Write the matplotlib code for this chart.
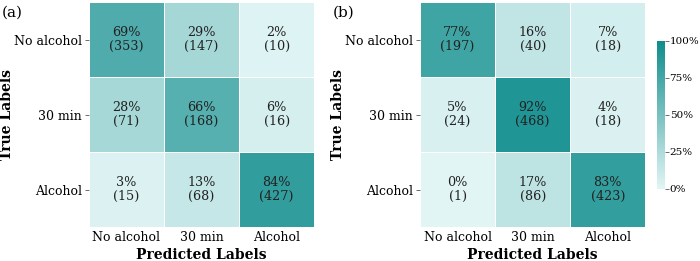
import numpy as np
import matplotlib.pyplot as plt
from matplotlib.colors import LinearSegmentedColormap

plt.rcParams['font.family'] = 'DejaVu Serif'

classes = ['No alcohol', '30 min', 'Alcohol']
counts_a = np.array([[353, 147, 10],
                     [71, 168, 16],
                     [15, 68, 427]])
counts_b = np.array([[197, 40, 18],
                     [24, 468, 18],
                     [1, 86, 423]])
panel_names = ['(a)', '(b)']
cbar_ticks = [0, 25, 50, 75, 100]

cmap = LinearSegmentedColormap.from_list('tealish', ['#e2f5f5', '#0f8c8c'])

fig = plt.figure(figsize=(7, 2.61), dpi=100)
axes = [fig.add_axes([0.127, 0.130, 0.322, 0.862]),
        fig.add_axes([0.600, 0.130, 0.322, 0.862])]

def draw_cm(ax, counts):
    pct = counts / counts.sum(axis=1, keepdims=True) * 100
    mesh = ax.pcolormesh(pct, cmap=cmap, vmin=0, vmax=100,
                         edgecolors='white', linewidth=0.6)
    ax.set_xlim(0, 3)
    ax.set_ylim(3, 0)
    for i in range(3):
        for j in range(3):
            ax.text(j + 0.5, i + 0.5, f'{pct[i, j]:.0f}%\n({counts[i, j]})',
                    ha='center', va='center', fontsize=9.2, color='#222222',
                    linespacing=1.1)
    ax.set_xticks(np.arange(3) + 0.5)
    ax.set_xticklabels(classes, fontsize=9)
    ax.set_yticks(np.arange(3) + 0.5)
    ax.set_yticklabels(classes, fontsize=9)
    ax.tick_params(axis='x', length=0, pad=3)
    ax.tick_params(axis='y', length=3, width=0.6, color='#555555', pad=2)
    for s in ax.spines.values():
        s.set_visible(False)
    ax.set_xlabel('Predicted Labels', fontsize=10, fontweight='bold', labelpad=3)
    ax.set_ylabel('True Labels', fontsize=10, fontweight='bold')
    ax.yaxis.set_label_coords(-0.331, 0.5)
    return mesh

mesh = None
for ax, counts in zip(axes, [counts_a, counts_b]):
    mesh = draw_cm(ax, counts)

fig.text(0.003, 0.935, panel_names[0], fontsize=11)
fig.text(0.476, 0.935, panel_names[1], fontsize=11)

cax = fig.add_axes([0.9386, 0.276, 0.011, 0.567])
cb = fig.colorbar(mesh, cax=cax, ticks=cbar_ticks)
cb.ax.set_yticklabels([f'{t}%' for t in cbar_ticks], fontsize=7.5)
cb.ax.tick_params(length=3, width=0.6, color='#555555', pad=0.5)
cb.outline.set_visible(False)

fig.savefig('out.png', dpi=100)
